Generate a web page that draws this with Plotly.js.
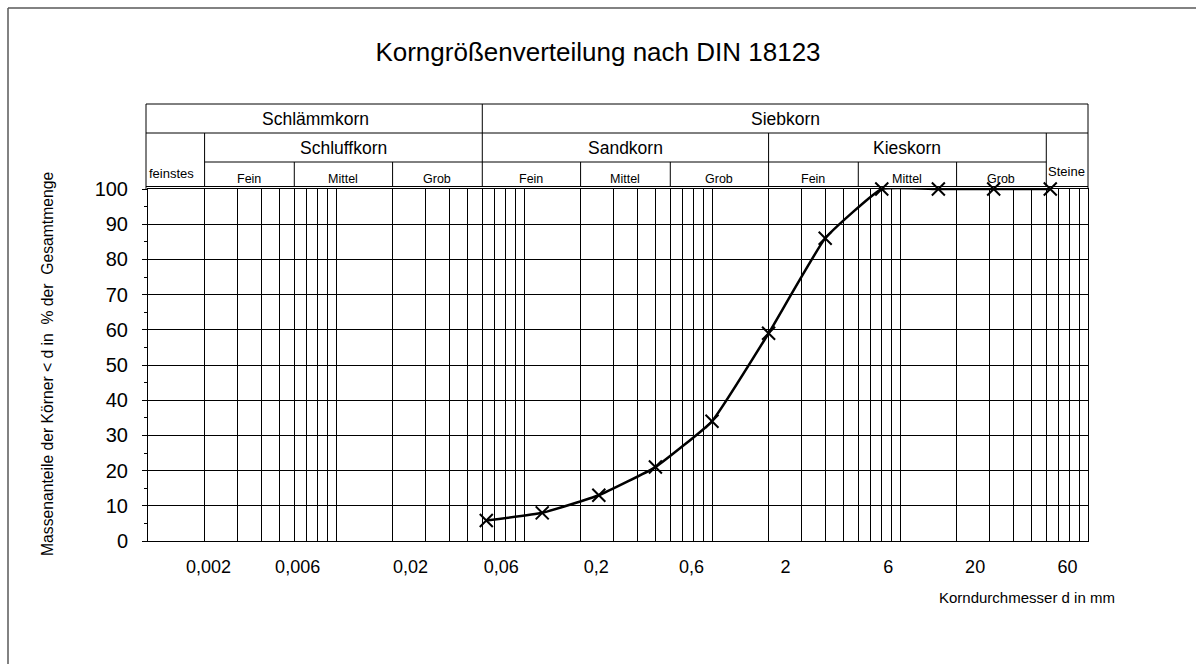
<!DOCTYPE html>
<html><head><meta charset="utf-8">
<script src="https://cdn.plot.ly/plotly-3.0.1.min.js"></script>
<style>html,body{margin:0;padding:0;background:#fff}</style>
</head><body><div id="chart" style="width:1196px;height:664px"></div>
<script>
// ---- data ----
const sieveSizes     = [0.063, 0.125, 0.25, 0.5, 1, 2, 4, 8, 16, 31.5, 63];
const passingPercent = [5.8, 8, 13, 21, 34, 59, 86, 100, 100, 100, 100];
const xTickLabels = ['0,002', '0,006', '0,02', '0,06', '0,2', '0,6', '2', '6', '20', '60'];
const xTickAt     = [0.0021, 0.00625, 0.0249, 0.0757, 0.242, 0.778, 2.46, 8.66, 25.1, 77.9];
const classLimits = [0.002, 0.006, 0.02, 0.06, 0.2, 0.6, 2, 6, 20, 60];
const subClassLabels = ['Fein', 'Mittel', 'Grob'];
const mainGroups = ['Schlämmkorn', 'Siebkorn'];
const soilGroups = ['Schluffkorn', 'Sandkorn', 'Kieskorn'];
const edgeLabels = ['feinstes', 'Steine'];
const chartTitle = 'Korngrößenverteilung nach DIN 18123';
const yTitle = 'Massenanteile der Körner < d in\u00a0 % der\u00a0 Gesamtmenge';
const xTitle = 'Korndurchmesser d in mm';

// ---- layout helpers ----
const FONT = 'Liberation Sans, Arial, sans-serif';
const W = 1196, H = 664, L = 148, R = 1088, T = 189, B = 541;
const py = p => (B - p) / (B - T);      // pixel row -> paper y
const pxp = p => (p - L) / (R - L);     // pixel col -> paper x
const lg = Math.log10;
const XMIN = 0.001, XMAX = 100;

// standard log grid: 1..9 x 10^n
const gridVals = [];
for (let e = lg(XMIN); e < lg(XMAX); e++) for (let m = 1; m <= 9; m++) gridVals.push(m * Math.pow(10, e));
gridVals.push(XMAX);

const shapes = [];
const line = (o) => shapes.push(Object.assign({type: 'line', layer: 'above', line: {color: '#000', width: 1}}, o));
const yTop = py(104), yR1 = py(133), yR2 = py(162), yBot = py(186.5);
// header horizontals
line({xref: 'paper', yref: 'paper', x0: pxp(146), x1: 1, y0: yTop, y1: yTop});
line({xref: 'paper', yref: 'paper', x0: pxp(146), x1: 1, y0: yR1, y1: yR1});
line({xref: 'x', yref: 'paper', x0: classLimits[0], x1: classLimits[9], y0: yR2, y1: yR2});
line({xref: 'paper', yref: 'paper', x0: pxp(146), x1: 1, y0: yBot, y1: yBot});
// header outer verticals
line({xref: 'paper', yref: 'paper', x0: pxp(146), x1: pxp(146), y0: yTop, y1: py(189)});
line({xref: 'paper', yref: 'paper', x0: 1, x1: 1, y0: yTop, y1: py(189)});
// class limit verticals
classLimits.forEach((v, i) => {
  let top = yR2;
  if (i === 3) top = yTop;
  else if (i === 0 || i === 6 || i === 9) top = yR1;
  line({xref: 'x', yref: 'paper', x0: v, x1: v, y0: top, y1: yBot});
});
// outer chart border (left + top visible)
line({xref: 'paper', yref: 'paper', x0: pxp(8), x1: pxp(8), y0: py(8), y1: py(700), line: {color: '#595959', width: 1.5}});
line({xref: 'paper', yref: 'paper', x0: pxp(8), x1: pxp(1230), y0: py(8), y1: py(8), line: {color: '#595959', width: 1.5}});

const ann = [];
const txt = (o) => ann.push(Object.assign({showarrow: false, xanchor: 'center', yanchor: 'middle', font: {family: FONT, size: 17.5, color: '#000'}}, o));
const mid = (a, b) => (lg(a) + lg(b)) / 2;
txt({xref: 'x', yref: 'paper', x: mid(XMIN, classLimits[3]), y: py(118.5), text: mainGroups[0]});
txt({xref: 'x', yref: 'paper', x: mid(classLimits[3], XMAX), y: py(118.5), text: mainGroups[1]});
txt({xref: 'x', yref: 'paper', x: mid(classLimits[0], classLimits[3]), y: py(148), text: soilGroups[0]});
txt({xref: 'x', yref: 'paper', x: mid(classLimits[3], classLimits[6]), y: py(148), text: soilGroups[1]});
txt({xref: 'x', yref: 'paper', x: mid(classLimits[6], classLimits[9]), y: py(148), text: soilGroups[2]});
for (let i = 0; i < 9; i++) {
  txt({xref: 'x', yref: 'paper', x: mid(classLimits[i], classLimits[i + 1]), y: py(179.5),
       text: subClassLabels[i % 3], font: {family: FONT, size: 12.5, color: '#000'}});
}
txt({xref: 'paper', yref: 'paper', x: pxp(147), xanchor: 'left', y: py(173.5), text: edgeLabels[0], font: {family: FONT, size: 13, color: '#000'}});
txt({xref: 'x', yref: 'paper', x: lg(classLimits[9]), xanchor: 'left', y: py(171.5), text: edgeLabels[1], font: {family: FONT, size: 13, color: '#000'}});
// axis titles
txt({xref: 'paper', yref: 'paper', x: pxp(47), y: py(364), textangle: -90, text: yTitle, font: {family: FONT, size: 15.7, color: '#000'}});
txt({xref: 'paper', yref: 'paper', x: pxp(1027), y: py(597), text: xTitle, font: {family: FONT, size: 15, color: '#000'}});

const trace = {
  type: 'scatter', mode: 'lines+markers',
  x: sieveSizes, y: passingPercent,
  line: {color: '#000', width: 2.5, shape: 'spline', smoothing: 0.35},
  marker: {symbol: 'x-thin', size: 13, color: '#000', line: {color: '#000', width: 2}},
  cliponaxis: false, hoverinfo: 'x+y'
};

const layout = {
  width: W, height: H,
  margin: {l: L, r: W - R, t: T, b: H - B, pad: 0},
  paper_bgcolor: '#fff', plot_bgcolor: '#fff',
  showlegend: false,
  title: {text: chartTitle, font: {family: FONT, size: 26, color: '#000'},
          xref: 'container', yref: 'container', x: 0.5, y: 1 - 52 / H, xanchor: 'center', yanchor: 'middle'},
  xaxis: {
    type: 'log', range: [lg(XMIN), lg(XMAX)],
    tickmode: 'array', tickvals: xTickAt, ticktext: xTickLabels,
    ticks: '', showgrid: false, zeroline: false,
    showline: true, linecolor: '#000', linewidth: 1, mirror: true,
    tickfont: {family: FONT, size: 18, color: '#000'}, ticklabelstandoff: 9,
    minor: {tickmode: 'array', tickvals: gridVals, showgrid: true, gridcolor: '#000', gridwidth: 1, ticks: ''}
  },
  yaxis: {
    range: [0, 100], dtick: 10, tick0: 0,
    showgrid: true, gridcolor: '#000', gridwidth: 1, zeroline: false,
    showline: true, linecolor: '#000', linewidth: 1, mirror: true,
    ticks: 'outside', ticklen: 5, tickcolor: '#000', tickwidth: 1,
    tickfont: {family: FONT, size: 20, color: '#000'}, ticklabelstandoff: 10,
    minor: {dtick: 5, ticks: 'outside', ticklen: 3, tickcolor: '#000', showgrid: false}
  },
  shapes: shapes,
  annotations: ann
};

Plotly.newPlot('chart', [trace], layout, {staticPlot: true, displayModeBar: false});
</script>
</body></html>
